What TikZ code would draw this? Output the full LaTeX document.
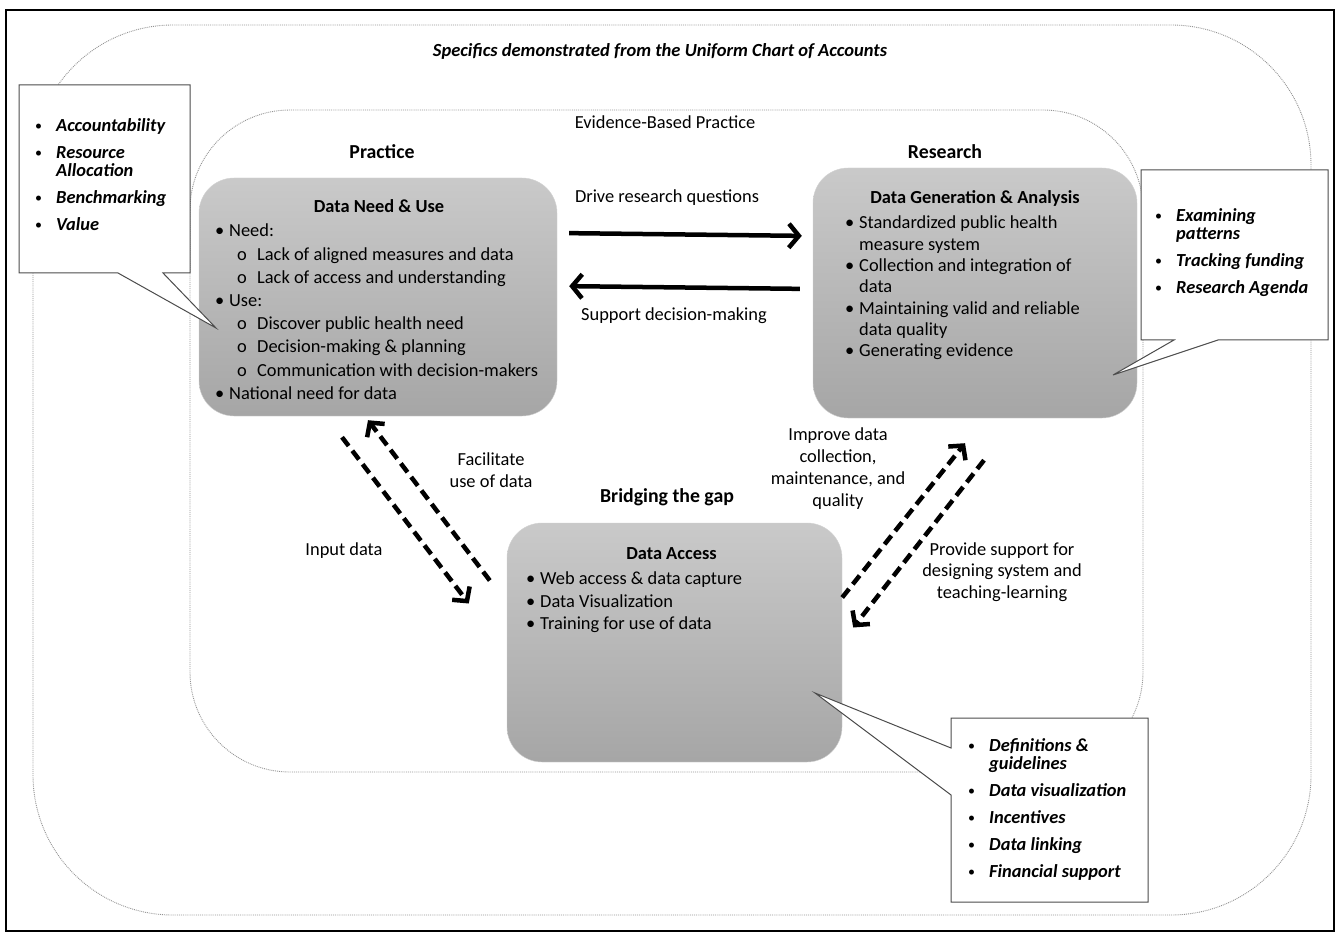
\documentclass[tikz,border=0pt]{standalone}
\usepackage{fontspec}
\setmainfont{Carlito}
\usetikzlibrary{arrows.meta,calc}

\tikzset{
  zone/.style={draw=gray!85, densely dotted, line width=0.9pt},
  box/.style={draw=gray!35, rounded corners=35pt, top color=gray!42, bottom color=gray!70, inner sep=0pt},
  boxtitle/.style={font=\fontsize{18.4}{22}\selectfont\bfseries},
  heading/.style={font=\fontsize{19.8}{23}\selectfont\bfseries},
  bodytext/.style={font=\fontsize{18.4}{23.2}\selectfont, align=left, inner sep=0pt, anchor=north west},
  labeltext/.style={font=\fontsize{18.4}{22}\selectfont, align=center, inner sep=0pt},
  callout/.style={draw=gray!60!black, fill=white, line width=1pt},
  callouttext/.style={font=\fontsize{18.4}{18}\selectfont\bfseries\itshape, align=left, inner sep=0pt, anchor=north west},
  bigarrow/.style={line width=4.5pt, -{Straight Barb[length=10pt,width=24pt]}},
  dasharrow/.style={line width=4.5pt, dash pattern=on 11pt off 6pt, -{Straight Barb[length=10pt,width=22pt]}}
}
\newcommand{\bul}{\makebox[14pt][l]{\textbullet}}
\newcommand{\sub}{\hspace{22pt}\makebox[20pt][l]{o}}
\newcommand{\cbul}{\makebox[21pt][l]{\raisebox{0.5pt}{\fontsize{14}{18}\selectfont\mdseries\upshape\textbullet}}}

\begin{document}
\begin{tikzpicture}[x=1pt,y=-1pt]
    \useasboundingbox (0,0) rectangle (1339,933);

    % Frame
    \draw[black, line width=1.2pt] (6,10) rectangle (1334,931);

    % Dotted regions
    \draw[zone, rounded corners=140pt] (33,25) rectangle (1311,915);
    \draw[zone, rounded corners=100pt] (190,110) rectangle (1143,772);

    % Headings
    \node[font=\fontsize{18.5}{22}\selectfont\bfseries\itshape] (title) at (660,51) {Specifics demonstrated from the Uniform Chart of Accounts};
    \node[labeltext] (ebp) at (665,122) {Evidence-Based Practice};
    \node[heading] (practice) at (382,152) {Practice};
    \node[heading] (research) at (945,152) {Research};
    \node[heading] (bridge) at (667,497) {Bridging the gap};

    % Boxes
    \node[box, minimum width=358pt, minimum height=238pt] (need) at (378,297) {};
    \node[box, minimum width=324pt, minimum height=250pt] (gen) at (975,293) {};
    \node[box, minimum width=335pt, minimum height=239pt] (acc) at (674.5,642.5) {};

    \node[boxtitle] (needtitle) at (379,206) {Data Need \& Use};
    \node[bodytext] (needlist) at (215,224) {%
        \bul Need:\\
        \sub Lack of aligned measures and data\\
        \sub Lack of access and understanding\\
        \bul Use:\\
        \sub Discover public health need\\
        \sub Decision-making \& planning\\
        \sub Communication with decision-makers\\
        \bul National need for data};

    \node[boxtitle] (gentitle) at (975,198) {Data Generation \& Analysis};
    \node[bodytext, font=\fontsize{18.4}{21.3}\selectfont] (genlist) at (845,216) {%
        \bul Standardized public health\\
        \hspace{14pt}measure system\\
        \bul Collection and integration of\\
        \hspace{14pt}data\\
        \bul Maintaining valid and reliable\\
        \hspace{14pt}data quality\\
        \bul Generating evidence};

    \node[boxtitle] (acctitle) at (671.5,554) {Data Access};
    \node[bodytext, font=\fontsize{18.4}{22.5}\selectfont] (acclist) at (526,572) {%
        \bul Web access \& data capture\\
        \bul Data Visualization\\
        \bul Training for use of data};

    % Solid arrows
    \draw[bigarrow, shorten <=12pt, shorten >=11pt] (need.east |- 0,233) -- (gen.west |- 0,236);
    \draw[bigarrow, shorten <=13pt, shorten >=12pt] (gen.west |- 0,289) -- (need.east |- 0,286);
    \node[labeltext] (drive) at (667,198) {Drive research questions};
    \node[labeltext] (support) at (674,316) {Support decision-making};

    % Dashed arrows
    \draw[dasharrow] ($(need.south)+(-36,21)$) -- ($(acc.west)+(-38,-39)$);
    \draw[dasharrow] ($(acc.west)+(-17,-62)$) -- ($(need.south)+(-10,4)$);
    \draw[dasharrow] ($(acc.east)+(0,-45)$) -- ($(gen.south)+(-10,25)$);
    \draw[dasharrow] ($(gen.south)+(9,42)$) -- ($(acc.east)+(11,-15)$);
    \node[labeltext] (facilitate) at (491,470) {Facilitate\\use of data};
    \node[labeltext] (input) at (344,551) {Input data};
    \node[labeltext] (improve) at (838,469) {Improve data\\collection,\\maintenance, and\\quality};
    \node[labeltext, font=\fontsize{18.4}{21.5}\selectfont] (provide) at (1002,572) {Provide support for\\designing system and\\teaching-learning};

    % Callouts
    \draw[callout] (19,85) -- (190,85) -- (190,273) -- (163,273) -- (216,328) -- (118,273) -- (19,273) -- cycle;
    \node[callouttext] (policy) at (35,118) {%
        \cbul Accountability\\[9pt]
        \cbul Resource\\ \hspace{21pt}Allocation\\[9pt]
        \cbul Benchmarking\\[9pt]
        \cbul Value};

    \draw[callout] (1141,170) -- (1328,170) -- (1328,340) -- (1218,340) -- (1113,375) -- (1174,340) -- (1141,340) -- cycle;
    \node[callouttext] (analysis) at (1155,208) {%
        \cbul Examining\\ \hspace{21pt}patterns\\[9pt]
        \cbul Tracking funding\\[9pt]
        \cbul Research Agenda};

    \draw[callout] (951,718) -- (1148,718) -- (1148,902) -- (951,902) -- (951,795) -- (815,693) -- (951,748) -- cycle;
    \node[callouttext] (access) at (968,738) {%
        \cbul Definitions \&\\ \hspace{21pt}guidelines\\[9pt]
        \cbul Data visualization\\[9pt]
        \cbul Incentives\\[9pt]
        \cbul Data linking\\[9pt]
        \cbul Financial support};
\end{tikzpicture}
\end{document}
